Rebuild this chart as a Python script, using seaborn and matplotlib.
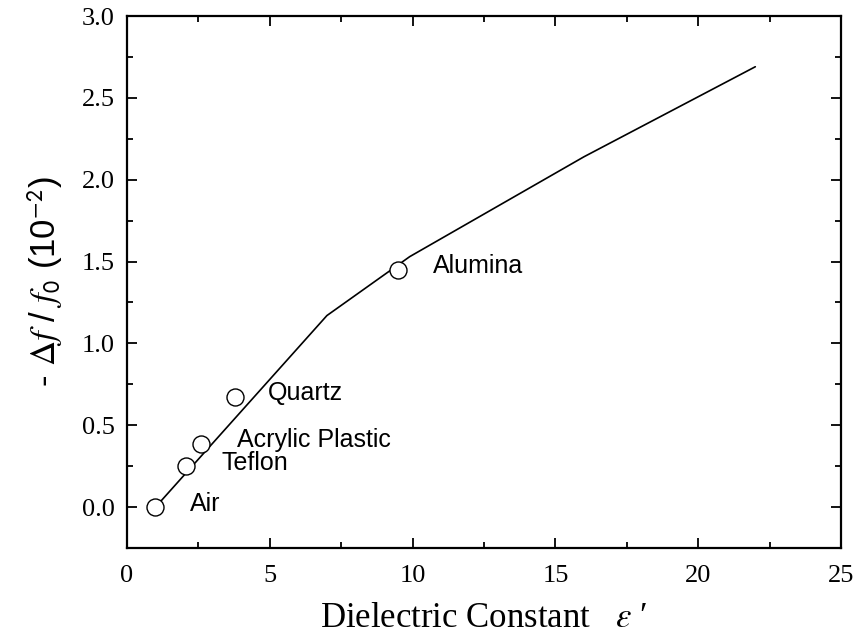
import numpy as np
import pandas as pd
import matplotlib
matplotlib.use("Agg")
import matplotlib.pyplot as plt
import seaborn as sns
from matplotlib.ticker import MultipleLocator

# curva calculada
curve_eps = [1.0, 7.0, 9.9, 16.0, 22.0]
curve_df = [0.0, 1.17, 1.53, 2.14, 2.69]

# materiales medidos
materials = ["Air", "Teflon", "Acrylic Plastic", "Quartz", "Alumina"]
meas_eps = [0.98, 2.07, 2.59, 3.78, 9.5]
meas_df = [0.0, 0.254, 0.383, 0.674, 1.448]
label_x = [2.2, 3.3, 3.85, 4.95, 10.7]
label_y = [0.02, 0.27, 0.41, 0.70, 1.47]

sns.set_style("ticks")
plt.rcParams["font.family"] = ["Liberation Serif", "DejaVu Serif"]
plt.rcParams["mathtext.fontset"] = "stix"
plt.rcParams["text.color"] = "black"
plt.rcParams["axes.labelcolor"] = "black"

df_curve = pd.DataFrame({"eps": curve_eps, "df": curve_df})
df_meas = pd.DataFrame({"eps": meas_eps, "df": meas_df, "mat": materials})

fig = plt.figure(figsize=(8.62, 6.43), dpi=100)
ax = fig.add_axes([0.1473, 0.1477, 0.8283, 0.8274])

sns.lineplot(data=df_curve, x="eps", y="df", ax=ax, color="black",
             linewidth=1.2, sort=False)
sns.scatterplot(data=df_meas, x="eps", y="df", ax=ax, marker="o", s=150,
                facecolor="white", edgecolor="black", linewidth=1.0, zorder=3)

for name, lx, ly in zip(materials, label_x, label_y):
    ax.text(lx, ly, name, fontsize=18, family=["Liberation Sans"],
            ha="left", va="center", color="black")

ax.set_xlim(0, 25)
ax.set_ylim(-0.25, 3.0)
ax.xaxis.set_major_locator(MultipleLocator(5))
ax.xaxis.set_minor_locator(MultipleLocator(2.5))
ax.yaxis.set_major_locator(MultipleLocator(0.5))
ax.yaxis.set_minor_locator(MultipleLocator(0.25))
ax.xaxis.set_major_formatter(plt.FormatStrFormatter("%d"))
ax.yaxis.set_major_formatter(plt.FormatStrFormatter("%.1f"))
ax.tick_params(which="both", direction="in", top=True, right=True,
               labeltop=False, labelright=False, width=1.3, color="black",
               labelcolor="black")
ax.tick_params(which="major", length=7, labelsize=19)
ax.tick_params(axis="x", which="major", pad=12)
ax.tick_params(axis="y", which="major", pad=9)
ax.tick_params(which="minor", length=4)
for sp in ax.spines.values():
    sp.set_linewidth(1.6)
    sp.set_color("black")
    sp.set_visible(True)

ax.set_xlabel("Dielectric Constant   $\\varepsilon$ \u2032", fontsize=25,
              labelpad=11)
ax.set_ylabel(r"- $\mathit{\Delta f}$ / $\mathit{f}_{\mathsf{0}}$ (10$^{\mathsf{-2}}$)",
              fontsize=25, family=["Liberation Sans"], labelpad=12)

fig.savefig("out.png", dpi=100)
